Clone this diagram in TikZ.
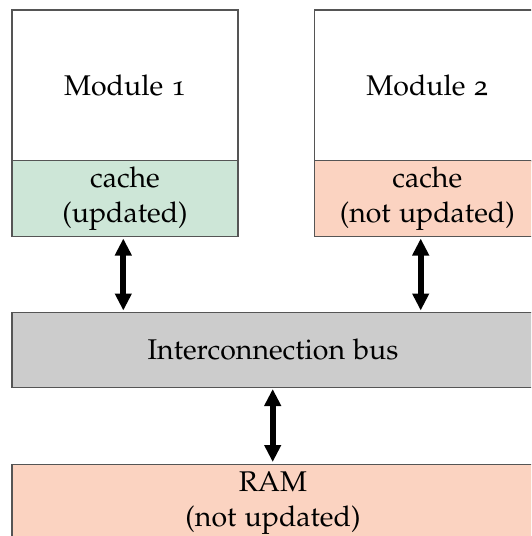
\documentclass[tikz,border=0pt]{standalone}
\usepackage[T1]{fontenc}
\usepackage[osf]{mathpazo}
\usetikzlibrary{arrows.meta}
\definecolor{cgreen}{RGB}{205,230,215}
\definecolor{csalmon}{RGB}{251,211,193}
\definecolor{cgray}{RGB}{204,204,204}
\definecolor{cline}{RGB}{85,85,85}
\tikzset{
  box/.style={draw=cline, line width=1.3pt, inner sep=0pt, align=center, font=\fontsize{28.5}{35}\selectfont},
  bigarrow/.style={line width=6pt, {Triangle[width=16pt,length=17pt]}-{Triangle[width=16pt,length=17pt]}}
}
\begin{document}
\begin{tikzpicture}[x=1pt,y=-1pt]
\useasboundingbox (0,0) rectangle (531,536);
\begin{scope}
\clip (0,0) rectangle (531,536);
% Module 1
\node[box, fill=white, minimum width=226pt, minimum height=151pt] (m1) at (125,85.5) {Module 1};
\node[box, fill=cgreen, minimum width=226pt, minimum height=76pt] (c1) at (125,198.8) {cache\\(updated)};
% Module 2
\node[box, fill=white, minimum width=226pt, minimum height=151pt] (m2) at (427.3,85.5) {Module 2};
\node[box, fill=csalmon, minimum width=226pt, minimum height=76pt] (c2) at (427.3,198.8) {cache\\(not updated)};
% Bus
\node[box, fill=cgray, minimum width=522pt, minimum height=75pt] (bus) at (273,349.7) {Interconnection bus};
% RAM
\node[box, fill=csalmon, minimum width=522pt, minimum height=76pt, anchor=north] (ram) at (273,464) {RAM\\(not updated)};
\end{scope}
\coordinate (a1t) at (123.3,238.5);
\coordinate (a1b) at (123.3,310.5);
\coordinate (a2t) at (420.7,238.5);
\coordinate (a2b) at (420.7,310.5);
\coordinate (a3t) at (272.7,389);
\coordinate (a3b) at (272.7,462);
\draw[bigarrow] (a1t) -- (a1b);
\draw[bigarrow] (a2t) -- (a2b);
\draw[bigarrow] (a3t) -- (a3b);
\end{tikzpicture}
\end{document}
